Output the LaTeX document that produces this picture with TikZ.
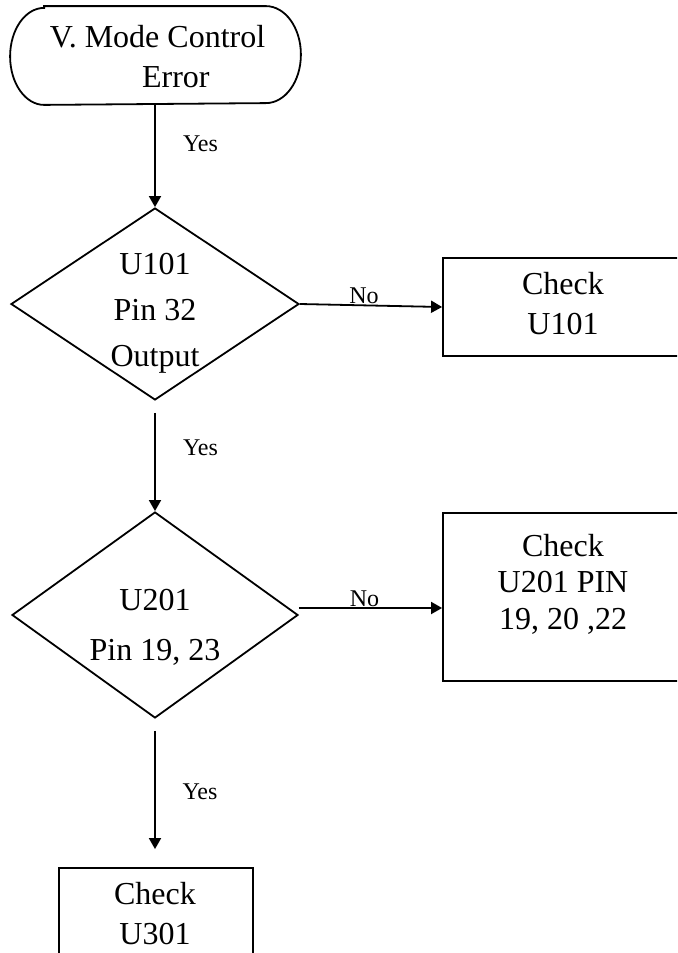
\documentclass[tikz,border=0pt]{standalone}
\usepackage{fontspec}
\setmainfont{Liberation Serif}
\usetikzlibrary{shapes.geometric,arrows.meta}
\begin{document}
\begin{tikzpicture}[x=0.5pt,y=-0.5pt,
  line width=0.9pt,
  main/.style={align=center, inner sep=0pt},
  lab/.style={font=\fontsize{12}{14}\selectfont, inner sep=0pt},
  dia/.style={diamond, draw, inner sep=0pt},
  boxnode/.style={rectangle, draw, inner sep=0pt},
  arr/.style={-{Triangle[width=6pt,length=5.5pt]}}]
\useasboundingbox (0,0) rectangle (677,953);
\clip (0,0) rectangle (677,953);

% terminator
\node[inner sep=0pt, minimum width=144.5pt, minimum height=48.5pt] (t) at (155.5,55.5) {};
\draw ([xshift=17pt]t.north west) -- ([xshift=-17.5pt]t.north east)
  arc[start angle=90,end angle=-90,x radius=17.5pt,y radius=24.25pt]
  -- ([xshift=17pt]t.south west)
  arc[start angle=270,end angle=90,x radius=17pt,y radius=24.25pt] -- cycle;
\node[main, font=\fontsize{16}{20}\selectfont] (tt) at (157.5,56.5) {V. Mode Control\\\hspace*{18.3pt}Error};

% decision 1
\node[dia, minimum width=144pt, minimum height=96pt] (d1) at (155,304) {};
\node[main, font=\fontsize{16}{23}\selectfont] (d1t) at (155,313) {U101\\Pin 32\\Output};

% decision 2
\node[dia, minimum width=143pt, minimum height=103pt] (d2) at (155,615) {};
\node[main, font=\fontsize{16}{25}\selectfont] (d2t) at (155,627) {U201\\Pin 19, 23};

% boxes
\node[boxnode, minimum width=120pt, minimum height=49pt] (b1) at (563,307) {};
\node[main, font=\fontsize{16}{20}\selectfont] (b1t) at (563,304) {Check\\U101};

\node[boxnode, minimum width=120pt, minimum height=84pt] (b2) at (563,597) {};
\node[main, font=\fontsize{16}{18.25}\selectfont] (b2t) at (563,584) {Check\\U201 PIN\\19, 20 ,22};

\node[boxnode, minimum width=97pt, minimum height=61pt] (b3) at (156,929) {};
\node[main, font=\fontsize{16}{20}\selectfont] (b3t) at (155,914) {Check\\U301};

% connectors
\draw[arr] (t.south -| d1.north) -- (d1.north);
\draw[arr] ([yshift=-6pt]d1.south) -- (d2.north);
\draw[arr] ([yshift=-6pt]d2.south) -- ([yshift=9pt]b3.north -| d2.south);
\draw[arr] (d1.east) -- (b1.west);
\draw[arr] ([yshift=3.5pt]d2.east) -- ([yshift=3.5pt]d2.east -| b2.west);

% labels
\node[lab] (y1) at (200.5,144) {Yes};
\node[lab] (y2) at (200.5,448) {Yes};
\node[lab] (y3) at (200,792) {Yes};
\node[lab] (n1) at (364,296) {No};
\node[lab] (n2) at (364.5,598.5) {No};
\end{tikzpicture}
\end{document}
